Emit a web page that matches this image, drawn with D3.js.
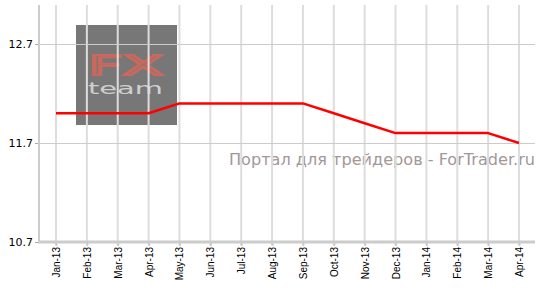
<!DOCTYPE html>
<html>
<head>
<meta charset="utf-8">
<script src="https://cdn.jsdelivr.net/npm/d3@7"></script>
<style>
  body { margin: 0; background: #fff; }
</style>
</head>
<body>
<script>
/* data */
var months = ['Jan-13', 'Feb-13', 'Mar-13', 'Apr-13', 'May-13', 'Jun-13', 'Jul-13', 'Aug-13',
  'Sep-13', 'Oct-13', 'Nov-13', 'Dec-13', 'Jan-14', 'Feb-14', 'Mar-14', 'Apr-14'];
var values = [12.0, 12.0, 12.0, 12.0, 12.1, 12.1, 12.1, 12.1,
  12.1, 12.0, 11.9, 11.8, 11.8, 11.8, 11.8, 11.7];
var yTicks = [10.7, 11.7, 12.7];

var width = 543, height = 296;

var svg = d3.select('body').append('svg')
  .attr('width', width)
  .attr('height', height);

/* scales */
var x = d3.scalePoint().domain(months).range([56, 519]);
var y = d3.scaleLinear().domain([10.7, 13.1]).range([242, 4.4]);

/* watermark text (behind grid) */
svg.append('text')
  .attr('x', 229)
  .attr('y', 165)
  .attr('font-family', 'DejaVu Sans, Verdana, sans-serif')
  .attr('font-size', 16.5)
  .attr('fill', '#a39797')
  .attr('textLength', 306)
  .attr('lengthAdjust', 'spacingAndGlyphs')
  .text('Портал для трейдеров - ForTrader.ru');

/* logo box */
var logo = svg.append('g');
logo.append('rect')
  .attr('x', 76).attr('y', 25)
  .attr('width', 101).attr('height', 100)
  .attr('fill', '#777777');

/* vertical grid */
svg.append('g').selectAll('line')
  .data(months)
  .join('line')
  .attr('x1', function (d) { return x(d); })
  .attr('x2', function (d) { return x(d); })
  .attr('y1', 5)
  .attr('y2', 245)
  .attr('stroke', '#dddddd')
  .attr('stroke-width', 2);

/* horizontal grid */
svg.append('g').selectAll('line')
  .data(yTicks)
  .join('line')
  .attr('x1', 35)
  .attr('x2', 535)
  .attr('y1', function (d) { return Math.round(y(d)) + 0.5; })
  .attr('y2', function (d) { return Math.round(y(d)) + 0.5; })
  .attr('stroke', '#cccccc')
  .attr('stroke-width', 1);

/* logo lettering over the grid */
logo.append('text')
  .attr('x', 88).attr('y', 75)
  .attr('font-family', 'DejaVu Sans, sans-serif')
  .attr('font-size', 27)
  .attr('fill', 'none')
  .attr('stroke', '#c9685c')
  .attr('stroke-width', 2)
  .attr('textLength', 75)
  .attr('lengthAdjust', 'spacingAndGlyphs')
  .text('FX');
logo.append('text')
  .attr('x', 88).attr('y', 94)
  .attr('font-family', 'DejaVu Sans, sans-serif')
  .attr('font-size', 15)
  .attr('fill', '#cfcfcf')
  .attr('textLength', 75)
  .attr('lengthAdjust', 'spacingAndGlyphs')
  .text('team');

/* axes lines */
svg.append('line')
  .attr('x1', 39).attr('x2', 39)
  .attr('y1', 5).attr('y2', 243)
  .attr('stroke', '#cccccc')
  .attr('stroke-width', 2);
svg.append('line')
  .attr('x1', 38).attr('x2', 535)
  .attr('y1', 242).attr('y2', 242)
  .attr('stroke', '#cccccc')
  .attr('stroke-width', 3);

/* y axis */
var yAxis = svg.append('g')
  .attr('transform', 'translate(38,0)')
  .call(d3.axisLeft(y).tickValues(yTicks).tickSize(3).tickPadding(2)
    .tickFormat(d3.format('.1f')));
yAxis.select('.domain').remove();
yAxis.selectAll('.tick line').attr('stroke', '#aaaaaa');
yAxis.selectAll('text')
  .attr('font-family', 'DejaVu Sans, Verdana, sans-serif')
  .attr('font-size', 11)
  .attr('fill', '#000');

/* x axis */
var xAxis = svg.append('g')
  .attr('transform', 'translate(0,243)')
  .call(d3.axisBottom(x).tickSize(3).tickPadding(2));
xAxis.select('.domain').remove();
xAxis.selectAll('.tick line').attr('stroke', '#cccccc').attr('stroke-width', 2);
xAxis.selectAll('text')
  .attr('font-family', 'Liberation Sans, Arial, sans-serif')
  .attr('font-size', 10)
  .attr('fill', '#000')
  .attr('text-anchor', 'end')
  .attr('dy', '0.35em')
  .attr('transform', 'translate(0,4) rotate(-90)')
  .attr('x', 0)
  .attr('y', 0);

/* line */
var line = d3.line()
  .x(function (d, i) { return x(months[i]); })
  .y(function (d) { return y(d); });

svg.append('path')
  .datum(values)
  .attr('d', line)
  .attr('fill', 'none')
  .attr('stroke', '#ff0000')
  .attr('stroke-width', 2.5)
  .attr('stroke-linejoin', 'round');
</script>
</body>
</html>
